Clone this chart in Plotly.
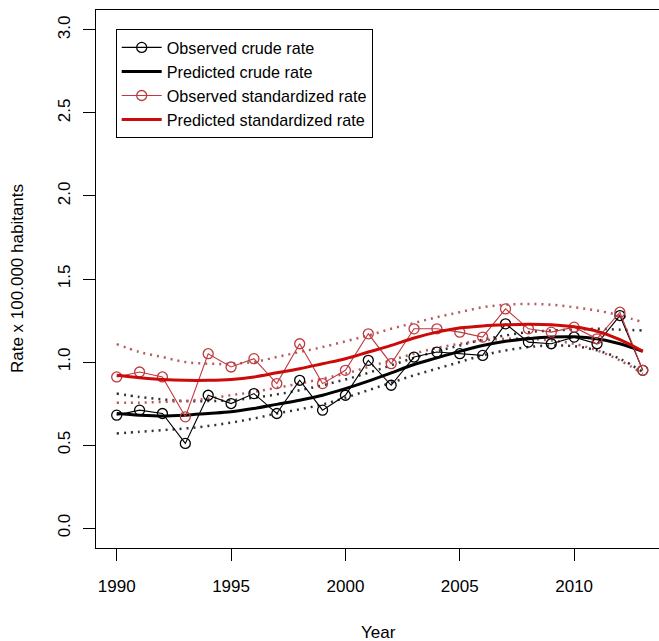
import plotly.graph_objects as go

years = list(range(1990, 2014))

obs_crude = [0.68, 0.71, 0.69, 0.51, 0.80, 0.75, 0.81, 0.69, 0.89, 0.71, 0.80, 1.01,
             0.86, 1.03, 1.06, 1.05, 1.04, 1.23, 1.12, 1.11, 1.15, 1.11, 1.28, 0.95]
obs_std = [0.91, 0.94, 0.91, 0.67, 1.05, 0.97, 1.02, 0.87, 1.11, 0.87, 0.95, 1.17,
           0.99, 1.20, 1.20, 1.18, 1.15, 1.32, 1.20, 1.18, 1.21, 1.14, 1.30, 0.95]

pred_crude = [0.69, 0.68, 0.675, 0.68, 0.69, 0.70, 0.72, 0.745, 0.77, 0.80, 0.84, 0.885,
              0.935, 0.985, 1.025, 1.064, 1.10, 1.125, 1.14, 1.15, 1.152, 1.14, 1.11, 1.065]
crude_upper = [0.81, 0.79, 0.775, 0.765, 0.765, 0.77, 0.785, 0.805, 0.83, 0.86, 0.895, 0.935,
               0.98, 1.025, 1.065, 1.10, 1.135, 1.16, 1.18, 1.19, 1.195, 1.20, 1.195, 1.19]
crude_lower = [0.57, 0.58, 0.59, 0.60, 0.615, 0.635, 0.66, 0.69, 0.715, 0.745, 0.785, 0.83,
               0.875, 0.92, 0.96, 1.00, 1.04, 1.07, 1.09, 1.10, 1.095, 1.07, 1.02, 0.94]

pred_std = [0.92, 0.905, 0.895, 0.89, 0.89, 0.895, 0.91, 0.935, 0.96, 0.99, 1.02, 1.06,
            1.10, 1.145, 1.18, 1.205, 1.217, 1.224, 1.228, 1.225, 1.212, 1.185, 1.135, 1.065]
std_upper = [1.108, 1.06, 1.03, 1.00, 0.99, 0.99, 1.00, 1.03, 1.06, 1.09, 1.125, 1.16,
             1.20, 1.235, 1.27, 1.30, 1.33, 1.345, 1.35, 1.345, 1.33, 1.31, 1.28, 1.24]
std_lower = [0.754, 0.755, 0.76, 0.765, 0.78, 0.80, 0.82, 0.845, 0.87, 0.90, 0.93, 0.97,
             1.01, 1.05, 1.085, 1.11, 1.13, 1.14, 1.14, 1.13, 1.11, 1.07, 1.01, 0.93]

x_ticks = [1990, 1995, 2000, 2005, 2010]
y_ticks = [0.0, 0.5, 1.0, 1.5, 2.0, 2.5, 3.0]
y_tick_text = ["0.0", "0.5", "1.0", "1.5", "2.0", "2.5", "3.0"]

BLACK = "#000000"
RED_PRED = "#cc0a0a"
RED_OBS = "#c0393f"
RED_CI = "#b85a5e"
BLACK_CI = "#333333"
FONT = "Liberation Sans, Arial, Helvetica, sans-serif"

fig = go.Figure()

dots = "2px,5px"
for ys, col in [(crude_upper, BLACK_CI), (crude_lower, BLACK_CI),
                (std_upper, RED_CI), (std_lower, RED_CI)]:
    fig.add_trace(go.Scatter(x=years, y=ys, mode="lines", showlegend=False,
                             line=dict(color=col, width=2.5, dash=dots, shape="spline"),
                             hoverinfo="skip"))

fig.add_trace(go.Scatter(x=years, y=obs_crude, mode="lines+markers",
                         name="Observed crude rate",
                         line=dict(color=BLACK, width=1.1),
                         marker=dict(symbol="circle-open", size=10, color=BLACK,
                                     line=dict(width=1.3, color=BLACK))))
fig.add_trace(go.Scatter(x=years, y=pred_crude, mode="lines",
                         name="Predicted crude rate",
                         line=dict(color=BLACK, width=3, shape="spline")))
fig.add_trace(go.Scatter(x=years, y=obs_std, mode="lines+markers",
                         name="Observed standardized rate",
                         line=dict(color=RED_OBS, width=1.1),
                         marker=dict(symbol="circle-open", size=10, color=RED_OBS,
                                     line=dict(width=1.3, color=RED_OBS))))
fig.add_trace(go.Scatter(x=years, y=pred_std, mode="lines",
                         name="Predicted standardized rate",
                         line=dict(color=RED_PRED, width=3, shape="spline")))

fig.update_layout(
    width=659, height=641,
    margin=dict(l=96, r=0, t=10, b=93, autoexpand=False),
    paper_bgcolor="white", plot_bgcolor="white",
    font=dict(family=FONT, size=17, color="black"),
    showlegend=True,
    legend=dict(x=0.035, y=0.964, xanchor="left", yanchor="top",
                bordercolor="black", borderwidth=1, bgcolor="white",
                font=dict(family=FONT, size=16.2, color="black"),
                itemwidth=40, tracegroupgap=0),
    xaxis=dict(range=[1989.095, 2013.71], tickvals=x_ticks,
               showgrid=False, zeroline=False, automargin=False,
               showline=True, linecolor="black", linewidth=1.3, mirror=True,
               ticks="outside", ticklen=12, tickwidth=1.2, tickcolor="black",
               ticklabelstandoff=10,
               tickfont=dict(family=FONT, size=17)),
    yaxis=dict(range=[-0.12, 3.12], tickvals=y_ticks, ticktext=y_tick_text,
               showgrid=False, zeroline=False, automargin=False,
               showline=True, linecolor="black", linewidth=1.3, mirror=False,
               ticks="outside", ticklen=12, tickwidth=1.2, tickcolor="black",
               tickangle=-90, ticklabelstandoff=6,
               tickfont=dict(family=FONT, size=17)),
    annotations=[
        dict(text="Year", xref="paper", yref="paper", x=0.502, y=-0.157,
             xanchor="center", yanchor="middle", showarrow=False,
             font=dict(family=FONT, size=17)),
        dict(text="Rate x 100.000 habitants", xref="paper", yref="paper",
             x=-0.1403, y=0.5, xanchor="center", yanchor="middle",
             textangle=-90, showarrow=False, font=dict(family=FONT, size=17)),
    ],
)

fig.write_html("out.html",
               config={"displayModeBar": False},
               post_script="document.body.style.margin='0px';document.body.style.overflow='hidden';")
